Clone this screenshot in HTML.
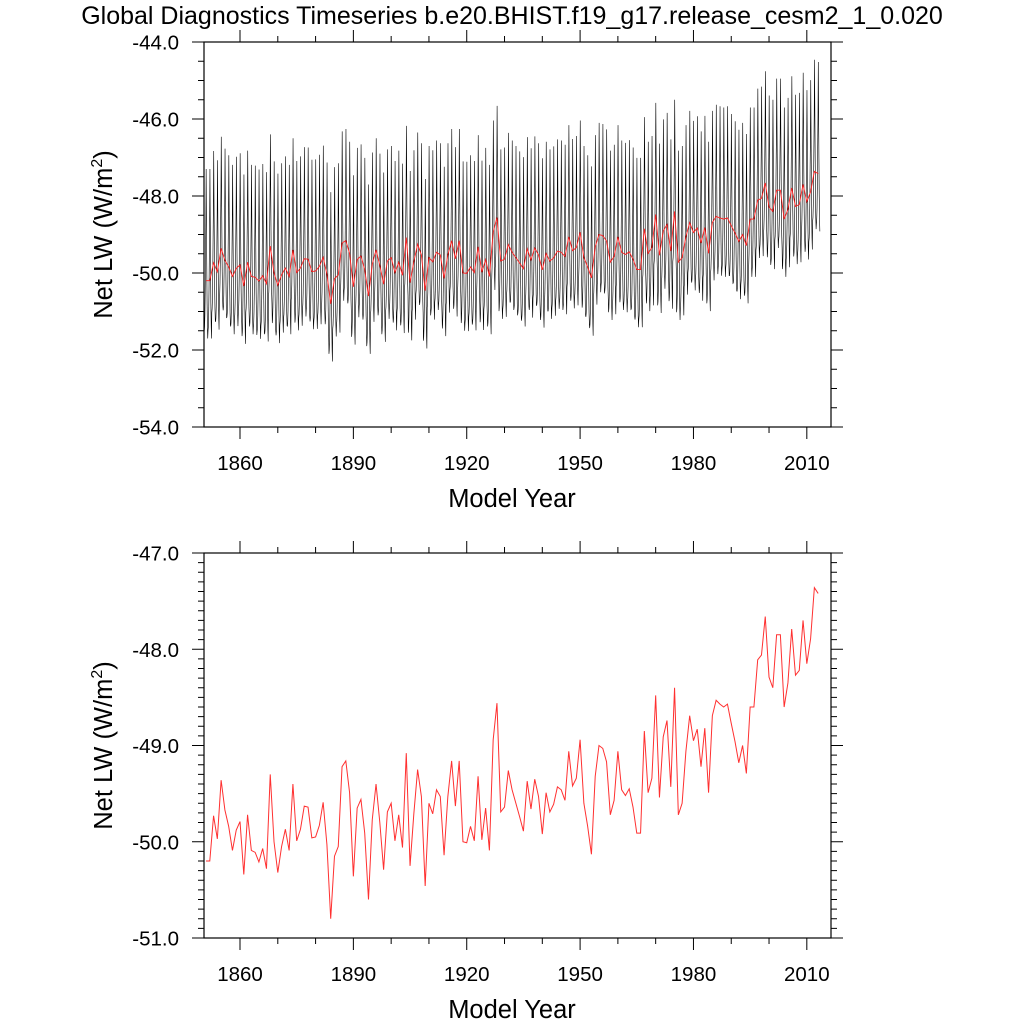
<!DOCTYPE html>
<html><head><meta charset="utf-8"><style>
html,body{margin:0;padding:0;background:#fff;}
svg{display:block;font-family:"Liberation Sans",Arial,sans-serif;}
</style></head><body>
<svg id="chart" width="1024" height="1024" viewBox="0 0 1024 1024" xmlns="http://www.w3.org/2000/svg">
<text x="512" y="24" text-anchor="middle" font-size="25">Global Diagnostics Timeseries b.e20.BHIST.f19_g17.release_cesm2_1_0.020</text>
<g id="top"></g>
<g id="bot"></g>
</svg>
<script>
const firstYear = 1851;
const annualValues = [-50.2,-50.2,-49.73,-49.97,-49.36,-49.67,-49.84,-50.09,-49.88,-49.79,-50.34,-49.72,-50.09,-50.11,-50.21,-50.07,-50.28,-49.3,-50.0,-50.32,-50.05,-49.87,-50.09,-49.4,-49.99,-49.87,-49.63,-49.64,-49.96,-49.95,-49.83,-49.59,-50.03,-50.8,-50.15,-50.05,-49.22,-49.16,-49.49,-50.36,-49.65,-49.56,-49.91,-50.6,-49.77,-49.4,-49.8,-50.29,-49.69,-49.6,-49.99,-49.72,-50.06,-49.08,-50.25,-49.71,-49.25,-49.53,-50.46,-49.6,-49.71,-49.46,-49.53,-50.14,-49.53,-49.16,-49.63,-49.16,-50.0,-50.01,-49.84,-49.99,-49.32,-49.98,-49.65,-50.09,-48.94,-48.56,-49.69,-49.64,-49.26,-49.46,-49.6,-49.74,-49.89,-49.37,-49.66,-49.35,-49.53,-49.92,-49.49,-49.69,-49.61,-49.43,-49.46,-49.57,-49.06,-49.42,-49.34,-48.94,-49.6,-49.84,-50.13,-49.32,-49.0,-49.03,-49.17,-49.72,-49.57,-49.06,-49.46,-49.52,-49.45,-49.64,-49.91,-49.91,-48.85,-49.49,-49.34,-48.48,-49.54,-48.91,-48.74,-49.43,-48.4,-49.72,-49.6,-49.06,-48.69,-48.95,-48.83,-49.22,-48.82,-49.49,-48.69,-48.53,-48.57,-48.6,-48.57,-48.77,-48.96,-49.18,-49.0,-49.29,-48.6,-48.6,-48.11,-48.06,-47.66,-48.29,-48.4,-47.85,-47.85,-48.6,-48.35,-47.79,-48.27,-48.22,-47.7,-48.15,-47.89,-47.36,-47.42];
const seasonalCycle = [-1.3,-1.2,-0.9,-0.3,0.6,1.5,2.9,1.6,0.4,-0.6,-1.2,-1.5];
const xTickLabels = [1860,1890,1920,1950,1980,2010];
const topYTicks = [-44.0,-46.0,-48.0,-50.0,-52.0,-54.0];
const botYTicks = [-47.0,-48.0,-49.0,-50.0,-51.0];

const NS='http://www.w3.org/2000/svg';
function mk(tag, parent, attrs){const e=document.createElementNS(NS,tag);for(const k in attrs)e.setAttribute(k,attrs[k]);parent.appendChild(e);return e;}
const X0=204,X1=831, XMIN=1850.47, XMAX=2016.4;
function xs(t){return X0+(t-XMIN)/(XMAX-XMIN)*(X1-X0);}

function panel(g, top, bottom, ymin, ymax, majorStep, minorStep, yTicks){
  const ys=v=>bottom-(v-ymin)/(ymax-ymin)*(bottom-top);
  const fr=mk('rect',g,{x:X0,y:top,width:X1-X0,height:bottom-top,fill:'none',stroke:'#000','stroke-width':1.2});
  
  for(let yr=1850;yr<=2016;yr+=10){
    const x=xs(yr); if(x<X0||x>X1) continue;
    const major=(yr-1860)%30===0; const L=major?12:6;
    mk('line',g,{x1:x,x2:x,y1:bottom,y2:bottom+L,stroke:'#000','stroke-width':1});
    mk('line',g,{x1:x,x2:x,y1:top,y2:top-L,stroke:'#000','stroke-width':1});
  }
  xTickLabels.forEach(v=>{const t=mk('text',g,{x:xs(v),y:bottom+43,'text-anchor':'middle','font-size':20.5});t.textContent=v;
    });
  const n=Math.round((ymax-ymin)/minorStep);
  for(let i=0;i<=n;i++){
    const v=ymin+i*minorStep; const y=ys(v);
    const major=Math.abs(((v-ymin)/majorStep)-Math.round((v-ymin)/majorStep))<1e-6; const L=major?12:6;
    mk('line',g,{x1:X0,x2:X0-L,y1:y,y2:y,stroke:'#000','stroke-width':1});
    mk('line',g,{x1:X1,x2:X1+L,y1:y,y2:y,stroke:'#000','stroke-width':1});
  }
  yTicks.forEach(v=>{const t=mk('text',g,{x:179,y:ys(v)+7.5,'text-anchor':'end','font-size':20.5});t.textContent=v.toFixed(1);
    });
  const xt=mk('text',g,{x:512,y:bottom+80,'text-anchor':'middle','font-size':25.5});xt.textContent='Model Year';
  
  const cy=(top+bottom)/2;
  const yt=mk('text',g,{x:112,y:cy,'text-anchor':'middle','font-size':25.5,transform:`rotate(-90 112 ${cy})`});
  yt.innerHTML='Net LW (W/m<tspan dy="-10" font-size="16">2</tspan><tspan dy="10">)</tspan>';
  
  return ys;
}

const gt=document.getElementById('top');
const ysT=panel(gt,42,427,-54,-44,2,0.5,topYTicks);
let d='';
annualValues.forEach((a,i)=>{seasonalCycle.forEach((s,m)=>{
  const t=firstYear+i-0.5+(m+0.5)/12; const x=xs(t+0.5)-1.9; const y=ysT(a+s);
  d+=(d?'L':'M')+x.toFixed(2)+' '+y.toFixed(2);});});
const ml=mk('path',gt,{d:d,fill:'none',stroke:'#000','stroke-width':0.6});

let d2='';annualValues.forEach((a,i)=>{d2+=(i?'L':'M')+xs(firstYear+i).toFixed(2)+' '+ysT(a).toFixed(2);});
const at=mk('path',gt,{d:d2,fill:'none',stroke:'#ff2020','stroke-width':0.9});


const gb=document.getElementById('bot');
const ysB=panel(gb,553,938,-51,-47,1,0.1,botYTicks);
let d3='';annualValues.forEach((a,i)=>{d3+=(i?'L':'M')+xs(firstYear+i).toFixed(2)+' '+ysB(a).toFixed(2);});
const ab=mk('path',gb,{d:d3,fill:'none',stroke:'#ff3030','stroke-width':1});

</script>
</body></html>
